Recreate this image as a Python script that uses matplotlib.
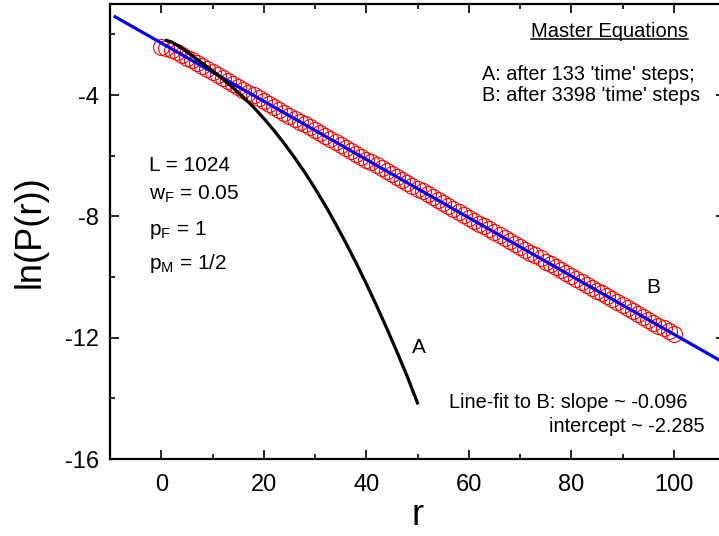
import matplotlib
matplotlib.use('Agg')
import matplotlib.pyplot as plt
from matplotlib.lines import Line2D
from matplotlib.ticker import MultipleLocator

plt.rcParams['font.family'] = ['Liberation Sans', 'DejaVu Sans']
plt.rcParams['mathtext.default'] = 'regular'
plt.rcParams['axes.unicode_minus'] = False

# B: master-equation distribution after 3398 steps
r_b = list(range(0, 101))
lnp_b = [-2.42, -2.45, -2.51, -2.59, -2.67, -2.77, -2.86, -2.96, -3.05, -3.15,
         -3.25, -3.34, -3.44, -3.53, -3.63, -3.73, -3.82, -3.92, -4.01, -4.11,
         -4.21, -4.30, -4.40, -4.49, -4.59, -4.69, -4.78, -4.88, -4.97, -5.07,
         -5.17, -5.26, -5.36, -5.45, -5.55, -5.65, -5.74, -5.84, -5.93, -6.03,
         -6.13, -6.22, -6.32, -6.41, -6.51, -6.61, -6.70, -6.80, -6.89, -6.99,
         -7.09, -7.18, -7.28, -7.37, -7.47, -7.57, -7.66, -7.76, -7.85, -7.95,
         -8.05, -8.14, -8.24, -8.33, -8.43, -8.53, -8.62, -8.72, -8.81, -8.91,
         -9.01, -9.10, -9.20, -9.29, -9.39, -9.49, -9.58, -9.68, -9.77, -9.87,
         -9.97, -10.06, -10.16, -10.25, -10.35, -10.45, -10.54, -10.64, -10.73, -10.83,
         -10.93, -11.02, -11.12, -11.21, -11.31, -11.41, -11.50, -11.60, -11.69, -11.79,
         -11.89]

# A: distribution after 133 steps
r_a = [1, 2, 4, 6, 8, 10, 12, 14, 16, 18, 20, 22, 24, 26, 28, 30,
       32, 34, 36, 38, 40, 42, 44, 46, 48, 50]
lnp_a = [-2.20, -2.25, -2.45, -2.70, -2.95, -3.20, -3.47, -3.76, -4.07, -4.40,
         -4.77, -5.17, -5.60, -6.06, -6.55, -7.08, -7.64, -8.24, -8.87, -9.53,
         -10.22, -10.94, -11.69, -12.47, -13.28, -14.15]

# straight-line fit to B
slope = -0.096
intercept = -2.285
fit_r = [-9, 110]
fit_lnp = [intercept + slope * x for x in fit_r]

fig = plt.figure(figsize=(7.19, 5.36), dpi=100)
ax = fig.add_axes([110 / 719, 77 / 536, 615 / 719, 455 / 536])

ax.plot(r_b, lnp_b, 'o', mfc='none', mec='red', ms=11.5, mew=0.8, zorder=2)
ax.plot(fit_r, fit_lnp, color='blue', lw=2.3, zorder=3)
ax.plot(r_a, lnp_a, color='black', lw=2.3, zorder=4)

ax.set_xlim(-10, 110)
ax.set_ylim(-16, -1)
ax.xaxis.set_major_locator(MultipleLocator(20))
ax.xaxis.set_minor_locator(MultipleLocator(10))
ax.yaxis.set_major_locator(MultipleLocator(4))
ax.yaxis.set_minor_locator(MultipleLocator(2))
ax.tick_params(which='both', direction='in', top=True, right=True,
               width=1.2, labelsize=17)
ax.tick_params(which='major', length=6.5)
ax.tick_params(which='minor', length=3.5)
ax.tick_params(axis='y', pad=8)
ax.tick_params(axis='x', pad=11)
for sp in ax.spines.values():
    sp.set_linewidth(1.6)

ax.set_xlabel('r', fontsize=26)
ax.set_ylabel('ln(P(r))', fontsize=26)
ax.xaxis.set_label_coords(0.5, -0.086)
ax.yaxis.set_label_coords(-0.102, 0.5)

# parameters
ax.text(-2.4, -6.50, 'L = 1024', fontsize=15)
ax.text(-2.4, -7.45, 'w$_F$ = 0.05', fontsize=15)
ax.text(-2.4, -8.61, 'p$_F$ = 1', fontsize=15)
ax.text(-2.4, -9.74, 'p$_M$ = 1/2', fontsize=15)

ax.text(48.9, -12.51, 'A', fontsize=15)
ax.text(94.6, -10.52, 'B', fontsize=15)

title = ax.text(87.5, -2.08, 'Master Equations', fontsize=14.5, ha='center')
ax.text(62.6, -3.49, "A: after 133 'time' steps;", fontsize=14.3)
ax.text(62.6, -4.21, "B: after 3398 'time' steps", fontsize=14.3)

ax.text(102.7, -14.33, 'Line-fit to B: slope ~ -0.096', fontsize=14.3, ha='right')
ax.text(106.0, -15.12, 'intercept ~ -2.285', fontsize=14.3, ha='right')

# underline the heading
fig.canvas.draw()
bb = title.get_window_extent()
base_y = ax.transData.transform((87.5, -2.08))[1]
fig.add_artist(Line2D([bb.x0, bb.x1], [base_y - 2.5, base_y - 2.5],
                      color='black', lw=1.1, transform=None))

fig.savefig('out.png', dpi=100)
